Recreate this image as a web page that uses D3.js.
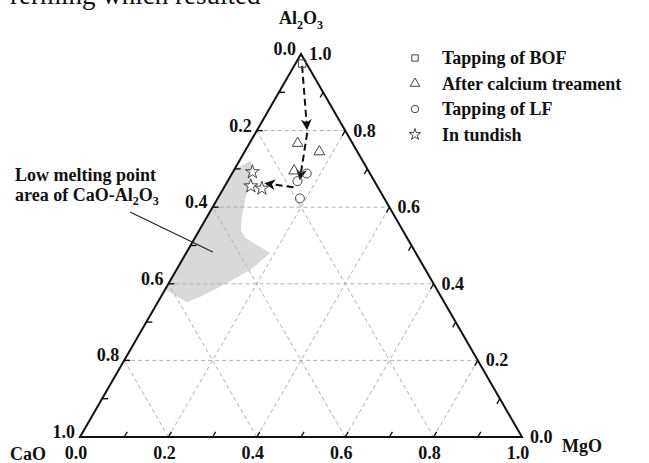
<!DOCTYPE html>
<html>
<head>
<meta charset="utf-8">
<script src="https://cdn.jsdelivr.net/npm/d3@7"></script>
<style>
  html, body { margin: 0; padding: 0; background: #fff; }
  svg { display: block; }
  text { font-family: "Liberation Serif", "Times New Roman", serif; }
</style>
</head>
<body>
<svg id="chart" width="649" height="463"></svg>
<script>
// Ternary compositions are [CaO, Al2O3, MgO] mass fractions.
const axisLabels = ["0.0", "0.2", "0.4", "0.6", "0.8", "1.0"];
const majorTicks = [0, 0.2, 0.4, 0.6, 0.8, 1.0];
const minorTicks = [0.1, 0.2, 0.3, 0.4, 0.5, 0.6, 0.7, 0.8, 0.9];
const gridValues = [0.2, 0.4, 0.6, 0.8];

const seriesNames = ["Tapping of BOF", "After calcium treament", "Tapping of LF", "In tundish"];
const seriesSymbols = ["square", "triangle", "circle", "star"];

const bofTapping = [[0.010, 0.975, 0.015]];
const afterCalcium = [
  [0.124, 0.767, 0.109],
  [0.086, 0.745, 0.169],
  [0.168, 0.695, 0.137]
];
const lfTapping = [
  [0.143, 0.688, 0.169],
  [0.174, 0.668, 0.158],
  [0.191, 0.623, 0.186]
];
const tundish = [
  [0.264, 0.692, 0.044],
  [0.286, 0.655, 0.059],
  [0.264, 0.649, 0.087]
];

// Process route arrows: BOF -> Ca treatment -> LF -> tundish
const routeArrows = [
  [[0.013, 0.969, 0.018], [0.083, 0.807, 0.110]],
  [[0.089, 0.794, 0.117], [0.164, 0.676, 0.160]],
  [[0.191, 0.652, 0.157], [0.247, 0.662, 0.091]]
];

// Low melting point zone of CaO-Al2O3(-MgO)
const lowMeltArea = [
  [0.300, 0.700, 0.000],
  [0.272, 0.713, 0.015],
  [0.252, 0.721, 0.027],
  [0.260, 0.702, 0.038],
  [0.286, 0.663, 0.051],
  [0.317, 0.619, 0.064],
  [0.347, 0.574, 0.079],
  [0.366, 0.540, 0.094],
  [0.366, 0.520, 0.114],
  [0.349, 0.501, 0.150],
  [0.330, 0.480, 0.190],
  [0.397, 0.436, 0.167],
  [0.487, 0.392, 0.121],
  [0.545, 0.366, 0.089],
  [0.582, 0.352, 0.066],
  [0.606, 0.376, 0.018],
  [0.614, 0.386, 0.000]
];
const lowMeltPointer = [0.458, 0.483, 0.059];

const svg = d3.select("#chart");

// Projection: horizontal position from MgO + Al2O3/2, vertical from Al2O3
const xScale = d3.scaleLinear().domain([0, 1]).range([80, 522]);
const yScale = d3.scaleLinear().domain([0, 1]).range([437, 54]);
const project = ([c, a, m]) => [xScale(m + a / 2), yScale(a)];

const black = "#111";

// Fragment of running text above the figure
svg.append("text")
  .attr("x", 10).attr("y", 4)
  .attr("font-size", 27)
  .attr("fill", black)
  .text("rerming which resulted");

// Low melting point area
svg.append("path")
  .attr("d", d3.line()(lowMeltArea.map(project)) + "Z")
  .attr("fill", "#d9d9d9")
  .attr("stroke", "none");

// Grid lines (three families)
const grid = svg.append("g")
  .attr("stroke", "#a8a8a8")
  .attr("stroke-width", 0.9)
  .attr("stroke-dasharray", "4,3")
  .attr("fill", "none");
gridValues.forEach(v => {
  const seg = (p, q) => grid.append("line")
    .attr("x1", project(p)[0]).attr("y1", project(p)[1])
    .attr("x2", project(q)[0]).attr("y2", project(q)[1]);
  seg([1 - v, v, 0], [0, v, 1 - v]);   // constant Al2O3
  seg([1 - v, 0, v], [0, 1 - v, v]);   // constant MgO
  seg([v, 0, 1 - v], [v, 1 - v, 0]);   // constant CaO
});

// Triangle frame
const corners = [[1, 0, 0], [0, 0, 1], [0, 1, 0]].map(project);
svg.append("path")
  .attr("d", d3.line()(corners) + "Z")
  .attr("fill", "none")
  .attr("stroke", black)
  .attr("stroke-width", 2)
  .attr("stroke-linejoin", "miter");

// Ticks every 0.1, pointing inward
const tickLen = 6;
const ticks = svg.append("g").attr("stroke", black).attr("stroke-width", 1.4);
const deg = Math.PI / 180;
minorTicks.forEach(t => {
  // bottom (MgO): up-right
  let p = project([1 - t, 0, t]);
  ticks.append("line").attr("x1", p[0]).attr("y1", p[1])
    .attr("x2", p[0] + tickLen * Math.cos(60 * deg)).attr("y2", p[1] - tickLen * Math.sin(60 * deg));
  // left (CaO): horizontal inward
  p = project([t, 1 - t, 0]);
  ticks.append("line").attr("x1", p[0]).attr("y1", p[1])
    .attr("x2", p[0] + tickLen).attr("y2", p[1]);
  // right (Al2O3): down-left
  p = project([0, t, 1 - t]);
  ticks.append("line").attr("x1", p[0]).attr("y1", p[1])
    .attr("x2", p[0] - tickLen * Math.cos(60 * deg)).attr("y2", p[1] + tickLen * Math.sin(60 * deg));
});

// Axis tick labels
const lbl = svg.append("g")
  .attr("font-size", 18)
  .attr("font-weight", "bold")
  .attr("fill", black);
majorTicks.forEach((t, i) => {
  // CaO, left side
  let p = project([t, 1 - t, 0]);
  lbl.append("text").attr("x", p[0] - 5).attr("y", p[1] - 5)
    .attr("text-anchor", "end").attr("dominant-baseline", "central")
    .text(axisLabels[i]);
  // Al2O3, right side
  p = project([0, t, 1 - t]);
  lbl.append("text").attr("x", p[0] + 8).attr("y", p[1])
    .attr("text-anchor", "start").attr("dominant-baseline", "central")
    .text(axisLabels[i]);
  // MgO, bottom
  p = project([1 - t, 0, t]);
  lbl.append("text").attr("x", p[0] - 4).attr("y", p[1] + 22)
    .attr("text-anchor", "middle")
    .text(axisLabels[i]);
});

// Component names
const title = svg.append("g")
  .attr("font-size", 18).attr("font-weight", "bold").attr("fill", black);
const apex = project([0, 1, 0]);
const alText = title.append("text").attr("x", apex[0]).attr("y", apex[1] - 30)
  .attr("text-anchor", "middle");
alText.append("tspan").text("Al");
alText.append("tspan").attr("font-size", 12).attr("dy", 5).text("2");
alText.append("tspan").attr("dy", -5).text("O");
alText.append("tspan").attr("font-size", 12).attr("dy", 5).text("3");
title.append("text").attr("x", 10).attr("y", 460).text("CaO");
title.append("text").attr("x", 562).attr("y", 452).text("MgO");

// Route arrows
svg.append("defs").append("marker")
  .attr("id", "head")
  .attr("viewBox", "0 0 10 10")
  .attr("refX", 8).attr("refY", 5)
  .attr("markerWidth", 11).attr("markerHeight", 11)
  .attr("markerUnits", "userSpaceOnUse")
  .attr("orient", "auto")
  .append("path")
  .attr("d", "M0,0 L10,5 L0,10 L3,5 Z")
  .attr("fill", black);

svg.append("g").selectAll("line")
  .data(routeArrows)
  .join("line")
  .attr("x1", d => project(d[0])[0]).attr("y1", d => project(d[0])[1])
  .attr("x2", d => project(d[1])[0]).attr("y2", d => project(d[1])[1])
  .attr("stroke", black)
  .attr("stroke-width", 2)
  .attr("stroke-dasharray", "7,4")
  .attr("marker-end", "url(#head)");

// Symbols
const symbolPath = {
  square: d3.symbol(d3.symbolSquare, 56)(),
  triangle: d3.symbol(d3.symbolTriangle, 50)(),
  circle: d3.symbol(d3.symbolCircle, 64)(),
  star: d3.symbol(d3.symbolStar, 60)()
};
const legendSymbolPath = {
  square: d3.symbol(d3.symbolSquare, 40)(),
  triangle: d3.symbol(d3.symbolTriangle, 40)(),
  circle: d3.symbol(d3.symbolCircle, 44)(),
  star: d3.symbol(d3.symbolStar, 40)()
};
const seriesData = [bofTapping, afterCalcium, lfTapping, tundish];
const marks = svg.append("g")
  .attr("fill", "none").attr("stroke", "#444").attr("stroke-width", 1);
seriesData.forEach((pts, i) => {
  marks.selectAll(null)
    .data(pts)
    .join("path")
    .attr("d", symbolPath[seriesSymbols[i]])
    .attr("transform", d => `translate(${project(d)[0]},${project(d)[1]})`);
});

// Legend
const legend = svg.append("g").attr("transform", "translate(415,58)");
seriesNames.forEach((name, i) => {
  const row = legend.append("g").attr("transform", `translate(0,${i * 25.5})`);
  row.append("path")
    .attr("d", legendSymbolPath[seriesSymbols[i]])
    .attr("fill", "none").attr("stroke", "#444").attr("stroke-width", 1);
  row.append("text")
    .attr("x", 27).attr("y", 0)
    .attr("dominant-baseline", "central")
    .attr("font-size", 18).attr("font-weight", "bold").attr("fill", black)
    .text(name);
});

// Annotation for the low melting point area
const note = svg.append("g").attr("font-size", 18).attr("font-weight", "bold").attr("fill", black);
note.append("text").attr("x", 15).attr("y", 181).text("Low melting point");
const note2 = note.append("text").attr("x", 15).attr("y", 201);
note2.append("tspan").text("area of CaO-Al");
note2.append("tspan").attr("font-size", 12).attr("dy", 4).text("2");
note2.append("tspan").attr("dy", -4).text("O");
note2.append("tspan").attr("font-size", 12).attr("dy", 4).text("3");
const tip = project(lowMeltPointer);
svg.append("line")
  .attr("x1", 130).attr("y1", 212)
  .attr("x2", tip[0]).attr("y2", tip[1])
  .attr("stroke", "#222").attr("stroke-width", 1.2);
</script>
</body>
</html>
